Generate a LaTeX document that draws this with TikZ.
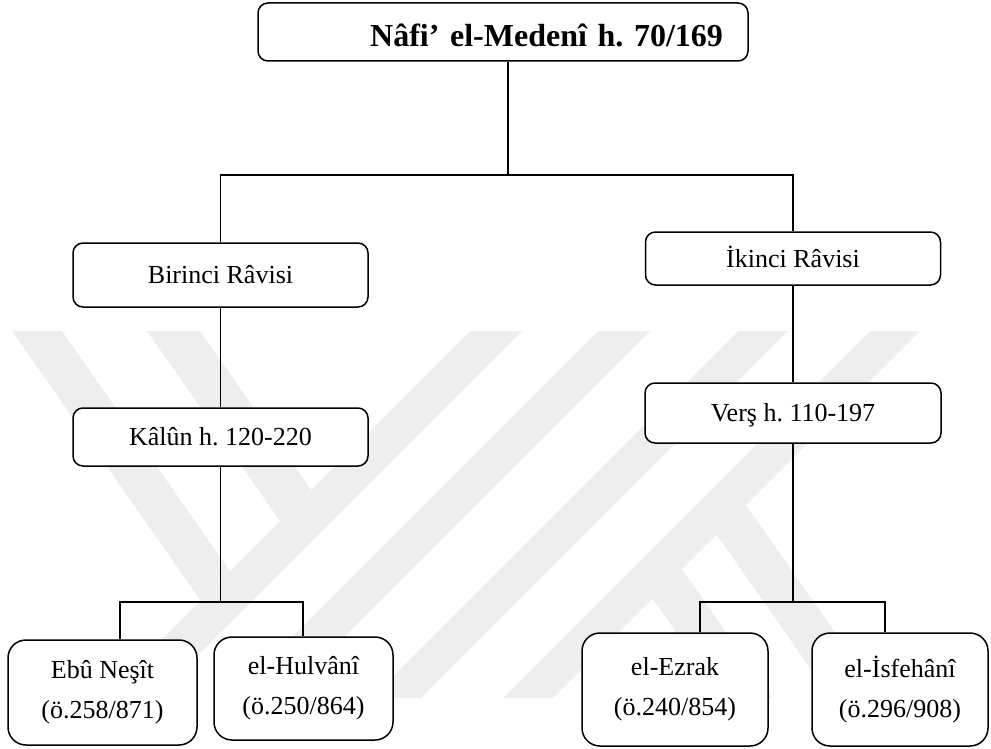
\documentclass[tikz,border=0pt]{standalone}
\usepackage{fontspec}
\setmainfont{Liberation Serif}
\frenchspacing
\begin{document}
\begin{tikzpicture}[x=1pt,y=-1pt,
  wm/.style={fill=black!6.5, draw=none},
  box/.style={draw, line width=1.5pt, rounded corners=10pt, fill=white,
    inner sep=0pt, font=\fontsize{26}{40}\selectfont, align=center},
  oneline/.style={text height=17pt, text depth=0pt},
  leaf/.style={rounded corners=18pt},
  link/.style={line width=1.2pt}]
\useasboundingbox (0,0) rectangle (991,749);

% background emblem
\fill[wm] (12,331) -- (62,331) -- (230,571) -- (200.6,600.4) -- cycle;
\fill[wm] (147,331) -- (200,331) -- (311.2,489.8) -- (280,521) -- cycle;
\fill[wm] (470,331) -- (522,331) -- (155,698) -- (103,698) -- cycle;
\fill[wm] (598,331) -- (650,331) -- (283,698) -- (231,698) -- cycle;
\fill[wm] (738,331) -- (788,331) -- (421,698) -- (371,698) -- cycle;
\fill[wm] (870,331) -- (920,331) -- (553,698) -- (503,698) -- cycle;
\fill[wm] (746,505) -- (881,698) -- (831,698) -- (716.6,534.4) -- cycle;
\fill[wm] (682,569) -- (772,698) -- (722,698) -- (652.6,598.4) -- cycle;

% boxes
\node[box, minimum width=490pt, minimum height=58pt, text width=440pt,
  align=right, text height=30pt, text depth=0pt,
  font=\fontsize{32}{38}\selectfont\bfseries] (top) at (503,32)
  {Nâfi’ el-Medenî h. 70/169};
\node[box, oneline, minimum width=295pt, minimum height=64pt] (bir) at (220.5,275) {Birinci Râvisi};
\node[box, oneline, minimum width=295pt, minimum height=53pt] (ik) at (793,258.5) {İkinci Râvisi};
\node[box, oneline, minimum width=295pt, minimum height=58pt] (kal) at (220.5,437) {Kâlûn h. 120-220};
\node[box, oneline, minimum width=296pt, minimum height=60pt] (vers) at (793,413) {Verş h. 110-197};
\node[box, leaf, minimum width=189pt, minimum height=105pt] (ebu) at (102.5,692.5) {Ebû Neşît\\(ö.258/871)};
\node[box, leaf, minimum width=179pt, minimum height=103pt] (hul) at (303.5,688.5) {el-Hulvânî\\(ö.250/864)};
\node[box, leaf, minimum width=186pt, minimum height=113pt] (ezr) at (675,689.5) {el-Ezrak\\(ö.240/854)};
\node[box, leaf, minimum width=176pt, minimum height=113pt] (isf) at (900,689.5) {el-İsfehânî\\(ö.296/908)};

% junction points
\coordinate (j0) at (508,175);
\coordinate (l1) at (120,602);
\coordinate (l2) at (303,602);
\coordinate (r1) at (700,602);
\coordinate (r2) at (885,602);

% connectors
\draw[link] (j0 |- top.south) -- (j0);
\draw[link] (bir.north) -- (bir.north |- j0) -- (ik.north |- j0) -- (ik.north);
\draw[link] (bir.south) -- (kal.north);
\draw[link] (ik.south) -- (vers.north);
\draw[link] (kal.south) -- (kal.south |- l1);
\draw[link] (l1 |- ebu.north) -- (l1) -- (l2) -- (l2 |- hul.north);
\draw[link] (vers.south) -- (vers.south |- r1);
\draw[link] (r1 |- ezr.north) -- (r1) -- (r2) -- (r2 |- isf.north);
\end{tikzpicture}
\end{document}
